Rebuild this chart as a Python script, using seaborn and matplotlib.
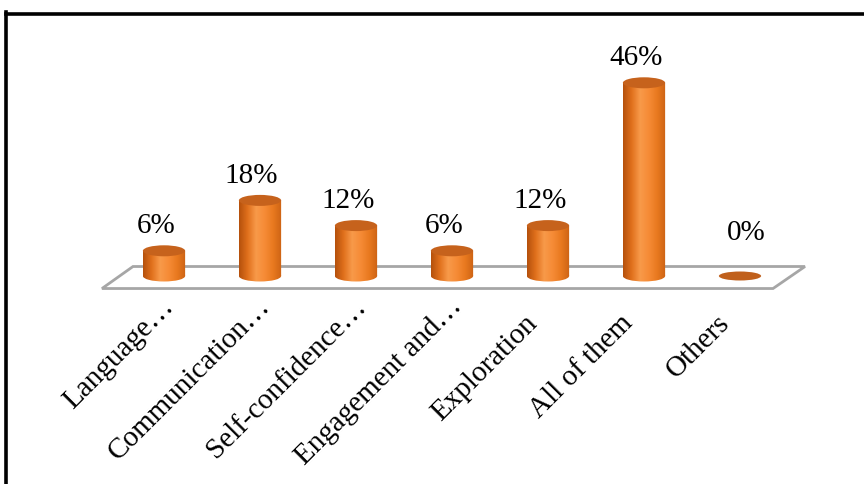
import numpy as np
import matplotlib
matplotlib.use("Agg")
import matplotlib.pyplot as plt
import seaborn as sns
from matplotlib.patches import Ellipse, Polygon, Rectangle, PathPatch
from matplotlib.path import Path
from matplotlib.colors import LinearSegmentedColormap
from matplotlib.lines import Line2D
from matplotlib.transforms import ScaledTranslation

categories = ["Language…", "Communication…", "Self-confidence…", "Engagement and…",
              "Exploration", "All of them", "Others"]
values = [6, 18, 12, 6, 12, 46, 0]
value_labels = ["6%", "18%", "12%", "6%", "12%", "46%", "0%"]

sns.set_theme(style="white")
plt.rcParams['font.family'] = ['Liberation Serif', 'DejaVu Serif']
plt.rcParams['text.color'] = 'black'
plt.rcParams['xtick.color'] = 'black'

W, H = 864, 484
fig = plt.figure(figsize=(W / 100, H / 100), dpi=100)
fig.patch.set_facecolor("white")

px_left, px_right = 92, 812
px_top, px_bottom = 30, 298
ax = fig.add_axes([px_left / W, (H - px_bottom) / H, (px_right - px_left) / W, (px_bottom - px_top) / H])
ax.set_facecolor("none")

scale = 4.2  # px per unit
base_px = 276
ylo = (base_px - px_bottom) / scale
yhi = (base_px - px_top) / scale

bar_w = 0.44
sns.barplot(x=categories, y=values, width=bar_w, color="#F08A3C", ax=ax,
            saturation=1, zorder=3)
ax.set_xlim(-0.75, 6.75)
ax.set_ylim(ylo, yhi)

floor = Polygon([(-0.323, 2.26), (6.677, 2.26), (6.344, -2.98), (-0.646, -2.98)],
                closed=True, facecolor="white", edgecolor="#A6A6A6", lw=2, zorder=1,
                clip_on=False)
ax.add_patch(floor)

cmap = LinearSegmentedColormap.from_list(
    "cyl", ["#B4500C", "#E0701C", "#F89A4A", "#F68B36", "#E8791F", "#CC6214"])
grad = np.linspace(0, 1, 256).reshape(1, -1)
ell_h = 11 / scale

for p, v in zip(list(ax.patches), values):
    x0 = p.get_x()
    w = p.get_width()
    xc = x0 + w / 2
    p.set_edgecolor("none")
    if v > 0:
        be = Ellipse((xc, 0), w, ell_h, facecolor="none", edgecolor="none", zorder=3)
        ax.add_patch(be)
        im = ax.imshow(grad, cmap=cmap, aspect="auto", extent=(x0, x0 + w, -ell_h, v),
                       zorder=3, interpolation="bilinear")
        body = Rectangle((x0, 0), w, v)
        path = Path.make_compound_path(body.get_path().transformed(body.get_patch_transform()),
                                       be.get_path().transformed(be.get_patch_transform()))
        clip = PathPatch(path, transform=ax.transData, facecolor="none", edgecolor="none")
        ax.add_patch(clip)
        im.set_clip_path(clip)
        p.set_visible(False)
        top = Ellipse((xc, v), w, ell_h, facecolor="#C6621C", edgecolor="none", zorder=4)
        ax.add_patch(top)
    else:
        top = Ellipse((xc, v), w, 9 / scale, facecolor="#C0601C", edgecolor="none", zorder=4)
        ax.add_patch(top)

ax.set_xlim(-0.75, 6.75)
ax.set_ylim(ylo, yhi)

for i, (v, lab) in enumerate(zip(values, value_labels)):
    dx = -6 if v > 0 else 4.5
    ax.annotate(lab, (i, max(v, 4.5)), xytext=(dx, 17.5), textcoords="offset points",
                ha="center", va="center", fontsize=21, color="black", zorder=5)

ax.set_xticks(range(len(categories)))
ax.set_xticklabels(categories, rotation=45, ha="right", rotation_mode="anchor",
                   fontsize=21, color="black")
ax.tick_params(axis="x", length=0, pad=9)
for t in ax.get_xticklabels():
    if t.get_text().endswith("…"):
        off = ScaledTranslation(-0.03, 0.17, fig.dpi_scale_trans)
    else:
        off = ScaledTranslation(-0.24, 0.0, fig.dpi_scale_trans)
    t.set_transform(t.get_transform() + off)
ax.set_yticks([])
ax.set_xlabel("")
ax.set_ylabel("")
for s in ax.spines.values():
    s.set_visible(False)

fig.add_artist(Line2D([5.7 / W, 5.7 / W], [0, 1 - 12.3 / H], color="black", lw=2.6,
                      transform=fig.transFigure, solid_capstyle="projecting"))
fig.add_artist(Line2D([5.7 / W, 1], [1 - 14 / H, 1 - 14 / H], color="black", lw=2.6,
                      transform=fig.transFigure, solid_capstyle="projecting"))

fig.savefig("out.png", dpi=100)
